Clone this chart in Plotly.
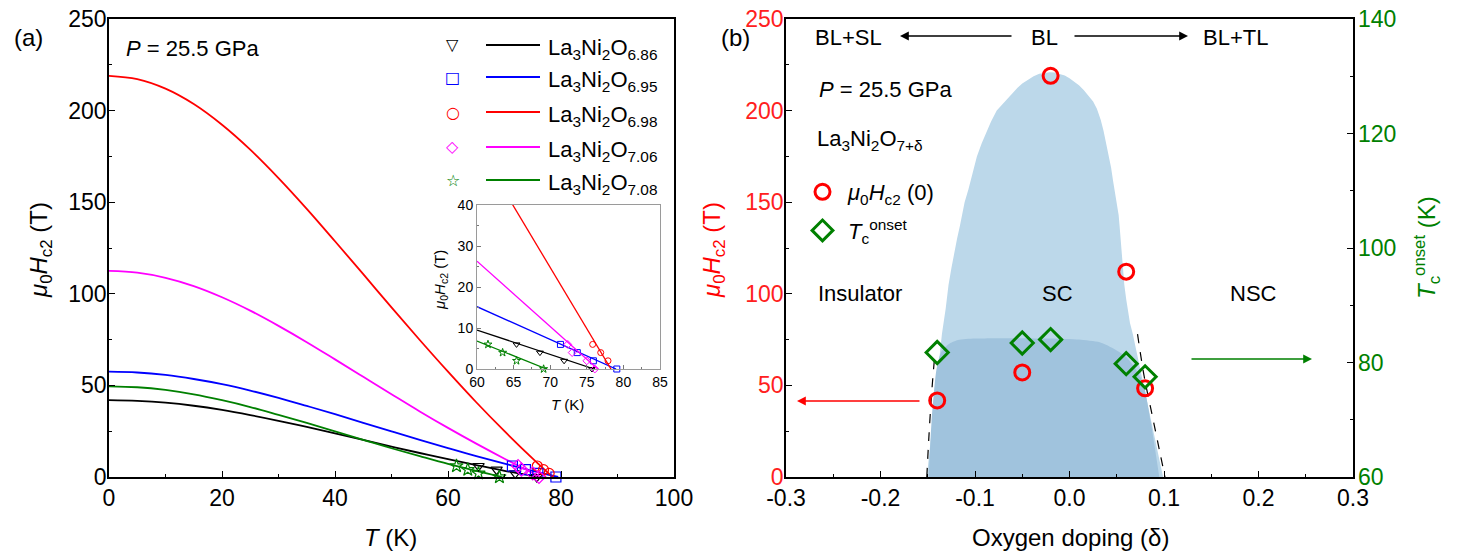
import plotly.graph_objects as go

W, H = 1476, 557
FONT = "Liberation Sans, Arial, sans-serif"


def px(v):
    return v / W


def py(v):
    return 1 - v / H


# ---------------- Panel (a): Hc2(T) curves ----------------
names = ["La<sub>3</sub>Ni<sub>2</sub>O<sub>6.86</sub>",
         "La<sub>3</sub>Ni<sub>2</sub>O<sub>6.95</sub>",
         "La<sub>3</sub>Ni<sub>2</sub>O<sub>6.98</sub>",
         "La<sub>3</sub>Ni<sub>2</sub>O<sub>7.06</sub>",
         "La<sub>3</sub>Ni<sub>2</sub>O<sub>7.08</sub>"]
colors = ["#000000", "#0000ff", "#ff0000", "#ff00ff", "#008000"]
symbols = ["triangle-down-open", "square-open", "circle-open", "diamond-open", "star-open"]
legend_glyphs = ["▽", "□", "○", "◇", "☆"]

fit_T_686 = [0, 5, 10, 15, 20, 25, 30, 35, 40, 45, 50, 55, 60, 65, 70, 75, 76]
fit_H_686 = [42, 41.6, 40.6, 38.9, 36.6, 33.8, 30.7, 27.3, 23.8, 20.2, 16.6, 13.1, 9.7, 6.5, 3.4, 0.6, 0]
fit_T_695 = [0, 5, 10, 15, 20, 25, 30, 35, 40, 45, 50, 55, 60, 65, 70, 75, 79.5]
fit_H_695 = [57.5, 57.05, 55.7, 53.5, 50.7, 47.2, 43.2, 38.8, 34.3, 29.6, 24.9, 20.3, 15.8, 11.4, 7.3, 3.3, 0]
fit_T_698 = [0, 5, 10, 15, 20, 25, 30, 35, 40, 45, 50, 55, 60, 65, 70, 75, 78.5]
fit_H_698 = [219, 217.2, 212.0, 203.6, 192.3, 178.7, 163.2, 146.4, 128.7, 110.7, 92.6, 74.8, 57.5, 40.8, 25.0, 10.0, 0]
fit_T_706 = [0, 5, 10, 15, 20, 25, 30, 35, 40, 45, 50, 55, 60, 65, 70, 75, 76.5]
fit_H_706 = [112.5, 111.5, 108.7, 104.2, 98.1, 90.8, 82.5, 73.6, 64.2, 54.7, 45.2, 35.8, 26.8, 18.2, 10.0, 2.2, 0]
fit_T_708 = [0, 5, 10, 15, 20, 25, 30, 35, 40, 45, 50, 55, 60, 65, 69.5]
fit_H_708 = [49.5, 49.0, 47.5, 45.1, 41.9, 38.2, 33.9, 29.5, 24.9, 20.3, 15.7, 11.4, 7.2, 3.3, 0]

pts_T_686 = [65.4, 68.6, 71.9, 75.7]
pts_H_686 = [6, 4, 2, 0]
pts_T_695 = [71.4, 73.7, 75.9, 79.1]
pts_H_695 = [6, 4, 2, 0]
pts_T_698 = [75.8, 76.9, 77.9]
pts_H_698 = [6, 4, 2]
pts_T_706 = [72.4, 73.0, 75.0, 76.1]
pts_H_706 = [6, 4, 2, 0]
pts_T_708 = [61.5, 63.5, 65.4, 69.1]
pts_H_708 = [6, 4, 2, 0]

lin_T_686 = [60, 76.0]
lin_H_686 = [9.5, 0]
lin_T_695 = [60, 79.0]
lin_H_695 = [15.2, 0]
lin_T_698 = [60, 78.3]
lin_H_698 = [54.6, 0]
lin_T_706 = [60, 76.5]
lin_H_706 = [26.3, 0]
lin_T_708 = [60, 69.5]
lin_H_708 = [6.8, 0]

fits = [(fit_T_686, fit_H_686), (fit_T_695, fit_H_695), (fit_T_698, fit_H_698),
        (fit_T_706, fit_H_706), (fit_T_708, fit_H_708)]
pts = [(pts_T_686, pts_H_686), (pts_T_695, pts_H_695), (pts_T_698, pts_H_698),
       (pts_T_706, pts_H_706), (pts_T_708, pts_H_708)]
lins = [(lin_T_686, lin_H_686), (lin_T_695, lin_H_695), (lin_T_698, lin_H_698),
        (lin_T_706, lin_H_706), (lin_T_708, lin_H_708)]

# ---------------- Panel (b): phase diagram ----------------
delta = [-0.14, -0.05, -0.02, 0.06, 0.08]
hc2_zero = [41.8, 57.1, 219, 112.1, 48.4]
tc_onset = [81.75, 83.4, 84.0, 79.8, 77.5]
delta_ticks = [-0.3, -0.2, -0.1, 0.0, 0.1, 0.2, 0.3]
delta_tick_labels = ["-0.3", "-0.2", "-0.1", "0.0", "0.1", "0.2", "0.3"]

sc_dome_delta = [-0.151, -0.147, -0.143, -0.139, -0.135, -0.131, -0.128, -0.125, -0.122, -0.119,
                 -0.116, -0.113, -0.111, -0.107, -0.104, -0.101, -0.098, -0.093, -0.088, -0.083,
                 -0.077, -0.071, -0.066, -0.060, -0.055, -0.050, -0.044, -0.038, -0.032, -0.026,
                 -0.021, -0.016, -0.010, -0.005, 0.000, 0.005, 0.010, 0.015, 0.020, 0.025,
                 0.029, 0.033, 0.036, 0.039, 0.041, 0.044, 0.046, 0.048, 0.050, 0.052,
                 0.053, 0.054, 0.055, 0.057, 0.058, 0.060, 0.062, 0.064, 0.067, 0.071,
                 0.075, 0.079, 0.083, 0.087, 0.091, 0.095, 0.099]
sc_dome_h = [0, 20, 40, 59, 78, 92, 105, 114, 123, 130,
             137, 144, 150, 157, 163, 169, 175, 182, 188, 194,
             200, 203.5, 206.5, 209.8, 212.5, 214.8, 217, 218.8, 220.1, 220.8,
             221, 220.8, 220.1, 219.1, 217.7, 215.9, 213.8, 211.3, 208.4, 205,
             201, 195, 189, 182, 176, 169, 162, 156, 150, 143,
             137, 130, 124, 114, 105, 97, 90, 84, 78, 68,
             59, 50, 40, 30, 20, 10, 0]
tc_dome_delta = [-0.149, -0.146, -0.141, -0.136, -0.128, -0.118, -0.100, -0.060, -0.020, 0.010,
                 0.032, 0.045, 0.060, 0.070, 0.078, 0.086, 0.095]
tc_dome_h = [0, 30, 58, 68, 72.5, 74.8, 75.6, 75.8, 75.6, 75,
             73.5, 70.5, 65.5, 59, 51, 30, 0]
dash_left_delta = [-0.151, -0.149, -0.146, -0.143]
dash_left_h = [0, 20, 45, 64]
dash_right_delta = [0.072, 0.079, 0.087, 0.095, 0.101]
dash_right_h = [78, 55, 35, 15, 0]

fig = go.Figure()

# panel (a) main
for (ft, fh), c in zip(fits, colors):
    fig.add_trace(go.Scatter(x=ft, y=fh, mode="lines", line=dict(color=c, width=1.8, shape="spline"),
                             xaxis="x", yaxis="y", showlegend=False, hoverinfo="skip"))
for (pt, ph), c, s in zip(pts, colors, symbols):
    fig.add_trace(go.Scatter(x=pt, y=ph, mode="markers",
                             marker=dict(symbol=s, size=10, color=c, line=dict(color=c, width=1.2)),
                             xaxis="x", yaxis="y", showlegend=False, cliponaxis=False, hoverinfo="skip"))
# inset
for (lt, lh), (pt, ph), c, s in zip(lins, pts, colors, symbols):
    fig.add_trace(go.Scatter(x=lt, y=lh, mode="lines", line=dict(color=c, width=1.3),
                             xaxis="x2", yaxis="y2", showlegend=False, hoverinfo="skip"))
    fig.add_trace(go.Scatter(x=pt, y=ph, mode="markers",
                             marker=dict(symbol=s, size=6, color=c, line=dict(color=c, width=1)),
                             xaxis="x2", yaxis="y2", showlegend=False, cliponaxis=False, hoverinfo="skip"))

# panel (b)
fig.add_trace(go.Scatter(x=sc_dome_delta, y=sc_dome_h, mode="lines", fill="toself",
                         fillcolor="rgb(188,216,234)", line=dict(width=0),
                         xaxis="x3", yaxis="y3", showlegend=False, hoverinfo="skip"))
fig.add_trace(go.Scatter(x=tc_dome_delta, y=tc_dome_h, mode="lines", fill="toself",
                         fillcolor="rgb(160,195,221)", line=dict(width=0, shape="spline", smoothing=0.6),
                         xaxis="x3", yaxis="y3", showlegend=False, hoverinfo="skip"))
for dx, dy in [(dash_left_delta, dash_left_h), (dash_right_delta, dash_right_h)]:
    fig.add_trace(go.Scatter(x=dx, y=dy, mode="lines",
                             line=dict(color="black", width=1.2, dash="dash", shape="spline"),
                             xaxis="x3", yaxis="y3", showlegend=False, hoverinfo="skip"))
fig.add_trace(go.Scatter(x=delta, y=hc2_zero, mode="markers",
                         name="<i>μ</i><sub>0</sub><i>H</i><sub>c2</sub> (0)", legendgroup="a",
                         marker=dict(symbol="circle-open", size=15, color="#ff0000",
                                     line=dict(color="#ff0000", width=3)),
                         xaxis="x3", yaxis="y3", cliponaxis=False, hoverinfo="skip"))
fig.add_trace(go.Scatter(x=delta, y=tc_onset, mode="markers",
                         name="<i>T</i><sub>c</sub><sup>onset</sup>", legendgroup="b",
                         marker=dict(symbol="diamond-open", size=17, color="#008000",
                                     line=dict(color="#008000", width=3)),
                         xaxis="x3", yaxis="y4", cliponaxis=False, hoverinfo="skip"))

ydom = [py(477), py(19)]
common = dict(showline=True, linecolor="black", linewidth=1.5, mirror=True, showgrid=False,
              zeroline=False, ticks="inside", ticklen=6, tickwidth=1.3, tickcolor="black",
              automargin=False)

annotations = []


def txt(x, y, text, size=22, color="black", xanchor="center", angle=0, family=FONT):
    annotations.append(dict(x=px(x), y=py(y), xref="paper", yref="paper", text=text, showarrow=False,
                            xanchor=xanchor, yanchor="middle", textangle=angle,
                            font=dict(size=size, color=color, family=family)))


def arrow(x_head, y_head, dx, color):
    annotations.append(dict(x=px(x_head), y=py(y_head), xref="paper", yref="paper", text="",
                            showarrow=True, ax=dx, ay=0, arrowhead=2, arrowsize=1.1, arrowwidth=1.6,
                            arrowcolor=color))


# panel labels and texts
txt(28, 38, "(a)", size=24)
txt(735, 38, "(b)", size=24)
txt(124, 48, "<i>P</i> = 25.5 GPa", xanchor="left")
# left legend (glyph, line, text)
shapes = []
rows = [45, 77, 112, 147, 180]
for r, g, c, n in zip(rows, legend_glyphs, colors, names):
    txt(453, r, g, size=16, color=c, family="DejaVu Sans")
    shapes.append(dict(type="line", xref="paper", yref="paper", x0=px(486), x1=px(540),
                       y0=py(r), y1=py(r), line=dict(color=c, width=2)))
    txt(546, r + 4, n, size=22, xanchor="left")

# axis titles
txt(40, 250, "<i>μ</i><sub>0</sub><i>H</i><sub>c2</sub> (T)", size=24, angle=-90)
txt(390, 537, "<i>T</i> (K)", size=24)
txt(440, 280, "<i>μ</i><sub>0</sub><i>H</i><sub>c2</sub> (T)", size=15, angle=-90)
txt(567, 404, "<i>T</i> (K)", size=15)
txt(1070, 537, "Oxygen doping (δ)", size=24)
txt(713, 250, "<i>μ</i><sub>0</sub><i>H</i><sub>c2</sub> (T)", size=24, color="#ff0000", angle=-90)
txt(1427, 248, "<i>T</i><sub>c</sub><sup>onset</sup> (K)", size=24, color="#008000", angle=-90)

# panel (b) texts
txt(848, 38, "BL+SL")
txt(1044, 38, "BL")
txt(1235, 38, "BL+TL")
arrow(900, 36, 113, "black")
arrow(1188, 36, -115, "black")
txt(817, 90, "<i>P</i> = 25.5 GPa", xanchor="left")
txt(815, 140, "La<sub>3</sub>Ni<sub>2</sub>O<sub>7+δ</sub>", xanchor="left")
txt(860, 293, "Insulator")
txt(1057, 293, "SC")
txt(1253, 293, "NSC")
arrow(797, 401, 124, "#ff0000")
arrow(1312, 359, -122, "#008000")

fig.update_layout(
    width=W, height=H, margin=dict(l=0, r=0, t=0, b=0, autoexpand=False),
    paper_bgcolor="white", plot_bgcolor="white",
    font=dict(family=FONT, size=23, color="black"),
    xaxis=dict(domain=[px(109), px(674)], range=[0, 100], anchor="y", dtick=20,
               minor=dict(ticks="inside", ticklen=3, dtick=10, tickcolor="black"),
               tickfont=dict(size=23), **common),
    yaxis=dict(domain=ydom, range=[0, 250], anchor="x", dtick=50, ticklabelstandoff=-4,
               minor=dict(ticks="inside", ticklen=3, dtick=25, tickcolor="black"),
               tickfont=dict(size=23), **common),
    xaxis2=dict(domain=[px(477), px(660)], range=[60, 85], anchor="y2", dtick=5,
                showline=True, linecolor="#9a9a9a", linewidth=1, mirror=True, showgrid=False,
                zeroline=False, ticks="inside", ticklen=4, tickcolor="#777", automargin=False,
                minor=dict(ticks="inside", ticklen=2, dtick=2.5, tickcolor="#777"),
                tickfont=dict(size=14)),
    yaxis2=dict(domain=[py(369), py(205)], range=[0, 40], anchor="x2", dtick=10,
                showline=True, linecolor="#9a9a9a", linewidth=1, mirror=True, showgrid=False,
                zeroline=False, ticks="inside", ticklen=4, tickcolor="#777", automargin=False,
                minor=dict(ticks="inside", ticklen=2, dtick=5, tickcolor="#777"),
                tickfont=dict(size=14)),
    xaxis3=dict(domain=[px(786), px(1353)], range=[-0.3, 0.3], anchor="y3",
                tickmode="array", tickvals=delta_ticks, ticktext=delta_tick_labels,
                minor=dict(ticks="inside", ticklen=3, dtick=0.05, tick0=0, tickcolor="black"),
                tickfont=dict(size=23), **common),
    yaxis3=dict(domain=ydom, range=[0, 250], anchor="x3", dtick=50, ticklabelstandoff=-4,
                minor=dict(ticks="inside", ticklen=3, dtick=25, tickcolor="black"),
                tickfont=dict(size=23, color="#ff2020"), **common),
    yaxis4=dict(range=[60, 140], overlaying="y3", anchor="x3", side="right", dtick=20,
                showline=False, showgrid=False, zeroline=False, ticks="inside", ticklen=6,
                tickwidth=1.3, tickcolor="black", automargin=False, ticklabelstandoff=4,
                minor=dict(ticks="inside", ticklen=3, dtick=10, tickcolor="black"),
                tickfont=dict(size=23, color="#008000")),
    showlegend=True,
    legend=dict(x=px(797), y=py(171), xanchor="left", yanchor="top", bgcolor="rgba(0,0,0,0)",
                font=dict(size=22, family=FONT), itemwidth=41, tracegroupgap=7,
                traceorder="grouped"),
    annotations=annotations, shapes=shapes,
)

fig.write_html("out.html")
